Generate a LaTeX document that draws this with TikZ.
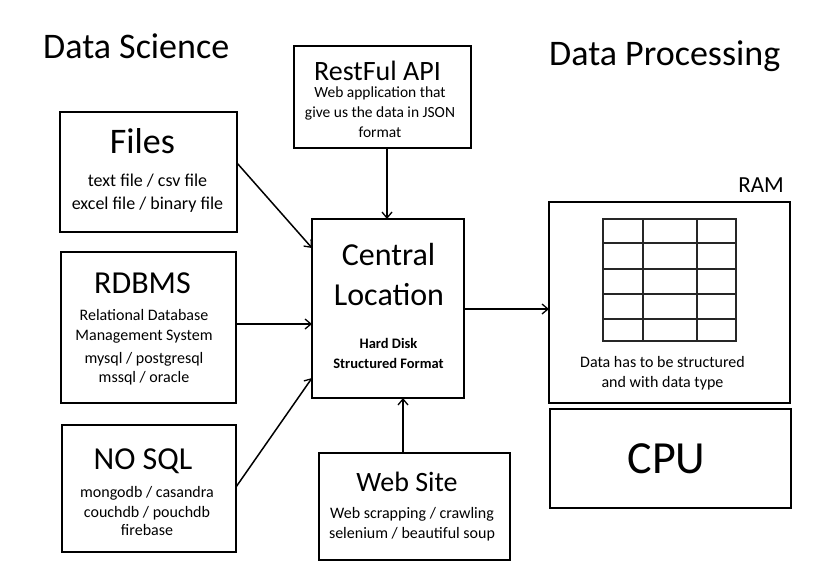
\documentclass[tikz,border=0pt]{standalone}
\usepackage{fontspec}
\setmainfont{Carlito}
\usetikzlibrary{arrows.meta}
\newcommand{\fs}[1]{\fontsize{#1}{#1}\selectfont}
\tikzset{
  box/.style={draw, line width=2pt, inner sep=0pt, outer sep=0pt},
  txt/.style={inner sep=0pt, anchor=base},
  conn/.style={line width=1.5pt, -{Straight Barb[length=6pt,width=10pt,line width=1.3pt]}},
  gridline/.style={line width=1.2pt, draw=black!85}
}
\begin{document}
\begin{tikzpicture}[x=1pt,y=-1pt]
\useasboundingbox (0,0) rectangle (828,571);
% boxes
\node[box, minimum width=177pt, minimum height=120pt] (files) at (148.5,172) {};
\node[box, minimum width=175pt, minimum height=151pt] (rdbms) at (148.5,327.5) {};
\node[box, minimum width=174pt, minimum height=127pt] (nosql) at (149,488.5) {};
\node[box, minimum width=177pt, minimum height=102pt] (rest) at (382.5,97) {};
\node[box, minimum width=152pt, minimum height=179pt] (central) at (388,308.5) {};
\node[box, minimum width=191pt, minimum height=107pt] (web) at (414.5,506.5) {};
\node[box, minimum width=241pt, minimum height=201pt] (ram) at (669.5,302.5) {};
\node[box, minimum width=241pt, minimum height=99pt] (cpu) at (670.5,458.5) {};
% grid
\draw[gridline, line width=2pt] (603,219) rectangle (736,341);
\foreach \xx in {643,697} \draw[gridline] (\xx,219) -- (\xx,341);
\foreach \yy in {243,269,294,319} \draw[gridline] (603,\yy) -- (736,\yy);
% titles
\node[txt, anchor=base west] (tds) at (43,58) {\fs{36}Data Science};
\node[txt, anchor=base west] (tdp) at (549,65) {\fs{36}Data Processing};
% RestFul
\node[txt] (restT) at (377.5,80) {\fs{28}RestFul API};
\node[txt] (restA) at (380,97) {\fs{15.5}Web application that};
\node[txt] (restB) at (380,117) {\fs{15.5}give us the data in JSON};
\node[txt] (restC) at (380,137) {\fs{15.5}format};
% Files
\node[txt] (filesT) at (142.5,153) {\fs{36}Files};
\node[txt] (filesA) at (147.5,186) {\fs{18}text file / csv file};
\node[txt] (filesB) at (147.5,209) {\fs{18}excel file / binary file};
% RDBMS
\node[txt] (rdbmsT) at (142.5,293) {\fs{32}RDBMS};
\node[txt] (rdbmsA) at (144,320) {\fs{16}Relational Database};
\node[txt] (rdbmsB) at (144,340) {\fs{16}Management System};
\node[txt] (rdbmsC) at (144,363) {\fs{16}mysql / postgresql};
\node[txt] (rdbmsD) at (144,382) {\fs{16}mssql / oracle};
% NO SQL
\node[txt] (nosqlT) at (143,469) {\fs{32}NO SQL};
\node[txt] (nosqlA) at (147,497) {\fs{16}mongodb / casandra};
\node[txt] (nosqlB) at (147,517) {\fs{16}couchdb / pouchdb};
\node[txt] (nosqlC) at (147,535) {\fs{16}firebase};
% Central
\node[txt] (centralT) at (388.5,265) {\fs{32}Central};
\node[txt] (centralU) at (389,305) {\fs{32}Location};
\node[txt] (centralA) at (388.5,348) {\fs{14.5}\bfseries Hard Disk};
\node[txt] (centralB) at (388.5,368) {\fs{14.5}\bfseries Structured Format};
% Web Site
\node[txt] (webT) at (407,491) {\fs{28}Web Site};
\node[txt] (webA) at (412,518) {\fs{16}Web scrapping / crawling};
\node[txt] (webB) at (412,538) {\fs{16}selenium / beautiful soup};
% RAM / CPU
\node[txt, anchor=base east] (ramT) at (784,192) {\fs{23}RAM};
\node[txt] (ramA) at (662.5,367) {\fs{16}Data has to be structured};
\node[txt] (ramB) at (662.5,387) {\fs{16}and with data type};
\node[txt] (cpuT) at (666.5,473) {\fs{46}CPU};
% connectors
\draw[conn] ([yshift=9pt]files.east) -- ([yshift=60.5pt]central.west);
\draw[conn] ([yshift=3.5pt]rdbms.east) -- ([yshift=-15.5pt]central.west);
\draw[conn] ([yshift=1.5pt]nosql.east) -- ([yshift=-69.5pt]central.west);
\draw[conn] ([xshift=4.5pt]rest.south) -- ([xshift=-1pt]central.north);
\draw[conn] ([xshift=-11.5pt]web.north) -- ([xshift=15pt]central.south);
\draw[conn] ([yshift=-0.5pt]central.east) -- ([yshift=-6.5pt]ram.west);
\end{tikzpicture}
\end{document}
